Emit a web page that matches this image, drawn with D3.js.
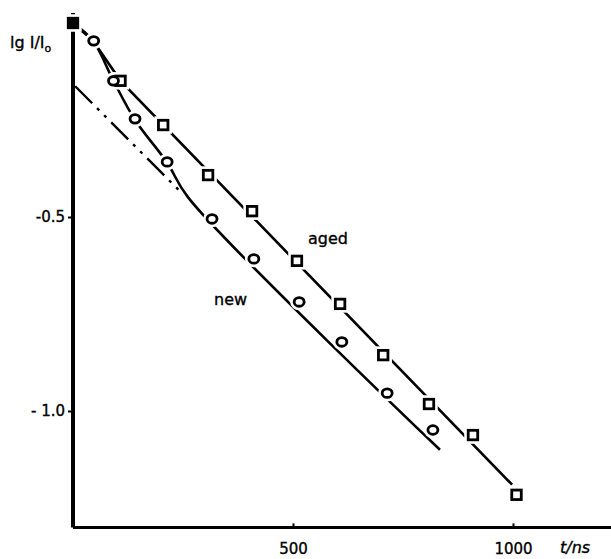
<!DOCTYPE html>
<html>
<head>
<meta charset="utf-8">
<script src="https://cdn.jsdelivr.net/npm/d3@7"></script>
<style>
  html, body { margin: 0; padding: 0; background: #fff; }
  svg { display: block; }
  text { font-family: "DejaVu Sans", "Liberation Sans", sans-serif; fill: #000; stroke: #000; stroke-width: 0.35px; }
</style>
</head>
<body>
<svg id="chart" width="611" height="559"></svg>
<script>
// ---- data ----
const agedT = [0, 108, 205, 307, 407, 509, 607, 705, 809, 909, 1008];
const agedV = [0, -0.149, -0.263, -0.392, -0.485, -0.613, -0.724, -0.856, -0.982, -1.062, -1.216];
const newT = [47, 92, 141, 214, 316, 411, 514, 611, 714, 818];
const newV = [-0.046, -0.149, -0.247, -0.358, -0.505, -0.608, -0.719, -0.822, -0.954, -1.049];
// fitted curves drawn through the points
const agedFitT = [0, 45, 108, 998];
const agedFitV = [0, -0.045, -0.149, -1.19];
const newFitT = [0, 45, 92, 141, 214, 262, 834];
const newFitV = [0, -0.045, -0.149, -0.25, -0.36, -0.45, -1.10];
const extrapT = [5, 240];
const extrapV = [-0.163, -0.43];
const xTicks = [500, 1000];
const xTickLabels = ["500", "1000"];
const yTicks = [-0.5, -1.0];
const yTickLabels = ["-0.5", "- 1.0"];

const svg = d3.select("#chart");
const x = d3.scaleLinear().domain([0, 1000]).range([73, 513]);
const y = d3.scaleLinear().domain([0, -1]).range([23, 411]);

const zip = (a, b) => a.map((d, i) => [d, b[i]]);
const line = d3.line().x(d => x(d[0])).y(d => y(d[1]));

// axes
const xAxis = d3.axisBottom(x).tickValues(xTicks).tickSize(-4).tickSizeOuter(0)
  .tickFormat((d, i) => xTickLabels[i]);
const gx = svg.append("g").attr("transform", `translate(0,${y(-1.3)})`).call(xAxis);
gx.select(".domain").attr("d", `M${x(0)},0H${x(1225)}`).attr("stroke", "#000").attr("stroke-width", 3);
gx.selectAll(".tick line").attr("stroke", "#000").attr("stroke-width", 2);
gx.selectAll(".tick text").attr("dy", null).attr("y", 27).style("font-size", "15px");

const yAxis = d3.axisLeft(y).tickValues(yTicks).tickSize(5).tickSizeOuter(0)
  .tickFormat((d, i) => yTickLabels[i]);
const gy = svg.append("g").attr("transform", `translate(${x(0)},0)`).call(yAxis);
gy.select(".domain").attr("d", `M0,${y(0.026)}V${y(-1.3)}`).attr("stroke", "#000").attr("stroke-width", 4);
gy.selectAll(".tick line").attr("stroke", "#000").attr("stroke-width", 2);
gy.selectAll(".tick text").attr("x", -8).style("font-size", "15px");

// axis titles
svg.append("text").attr("x", 560).attr("y", 553).style("font-size", "16px")
  .style("font-style", "italic").text("t/ns");
const yl = svg.append("text").attr("x", 10).attr("y", 48).style("font-size", "16px");
yl.append("tspan").text("lg I/I");
yl.append("tspan").attr("dy", 4).style("font-size", "11px").text("o");

// lines
svg.append("path").datum(zip(agedFitT, agedFitV)).attr("d", line)
  .attr("fill", "none").attr("stroke", "#000").attr("stroke-width", 2.6);
svg.append("path").datum(zip(newFitT, newFitV)).attr("d", line.curve(d3.curveCatmullRom))
  .attr("fill", "none").attr("stroke", "#000").attr("stroke-width", 2.6);
line.curve(d3.curveLinear);
svg.append("path").datum(zip(extrapT, extrapV)).attr("d", line)
  .attr("fill", "none").attr("stroke", "#000").attr("stroke-width", 2.4)
  .attr("stroke-dasharray", "24,7,3,7,3,7");

// markers (white halo creates gaps in the lines)
const sq = 9.5;
svg.append("g").selectAll("rect.halo").data(zip(agedT, agedV)).join("rect")
  .attr("x", d => x(d[0]) - sq / 2).attr("y", d => y(d[1]) - sq / 2)
  .attr("width", sq).attr("height", sq)
  .attr("fill", "#fff").attr("stroke", "#fff").attr("stroke-width", 8);
svg.append("g").selectAll("ellipse.halo").data(zip(newT, newV)).join("ellipse")
  .attr("cx", d => x(d[0])).attr("cy", d => y(d[1])).attr("rx", 5).attr("ry", 4.3)
  .attr("fill", "#fff").attr("stroke", "#fff").attr("stroke-width", 8);
svg.append("g").selectAll("rect").data(zip(agedT, agedV)).join("rect")
  .attr("x", d => x(d[0]) - sq / 2).attr("y", d => y(d[1]) - sq / 2)
  .attr("width", sq).attr("height", sq)
  .attr("fill", (d, i) => i === 0 ? "#000" : "#fff").attr("stroke", "#000").attr("stroke-width", 2.8);
svg.append("g").selectAll("ellipse").data(zip(newT, newV)).join("ellipse")
  .attr("cx", d => x(d[0])).attr("cy", d => y(d[1])).attr("rx", 5).attr("ry", 4.3)
  .attr("fill", "#fff").attr("stroke", "#000").attr("stroke-width", 2.8);

// series labels
svg.append("text").attr("x", 308).attr("y", 244).style("font-size", "16px").text("aged");
svg.append("text").attr("x", 214).attr("y", 305).style("font-size", "16px").text("new");
</script>
</body>
</html>
